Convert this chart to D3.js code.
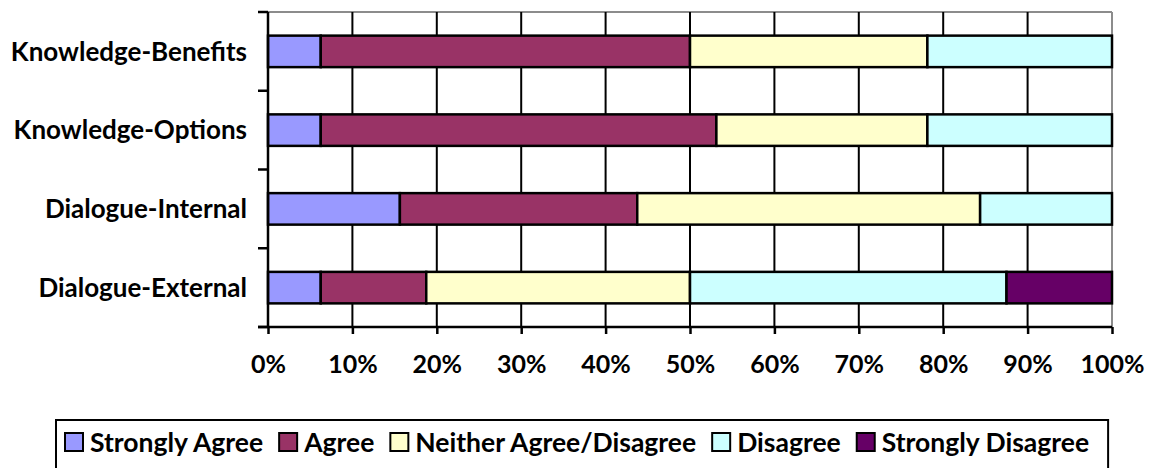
<!DOCTYPE html>
<html>
<head>
<meta charset="utf-8">
<script src="https://cdn.jsdelivr.net/npm/d3@7"></script>
<style>
  html, body { margin: 0; padding: 0; background: #ffffff; }
  svg { display: block; }
  text { font-family: Lato, "Open Sans", sans-serif; font-weight: bold; fill: #000; }
</style>
</head>
<body>
<svg id="chart" width="1149" height="468"></svg>
<script>
const categories = ["Knowledge-Benefits", "Knowledge-Options", "Dialogue-Internal", "Dialogue-External"];
const seriesNames = ["Strongly Agree", "Agree", "Neither Agree/Disagree", "Disagree", "Strongly Disagree"];
const stronglyAgree    = [6.25, 6.25, 15.625, 6.25];
const agree            = [43.75, 46.875, 28.125, 12.5];
const neither          = [28.125, 25, 40.625, 31.25];
const disagree         = [21.875, 21.875, 15.625, 37.5];
const stronglyDisagree = [0, 0, 0, 12.5];
const seriesColors = ["#9999FF", "#993366", "#FFFFCC", "#CCFFFF", "#660066"];
const xTickValues = [0, 10, 20, 30, 40, 50, 60, 70, 80, 90, 100];

const seriesValues = [stronglyAgree, agree, neither, disagree, stronglyDisagree];
const table = categories.map((c, i) => {
  const row = { category: c };
  seriesNames.forEach((s, j) => row[s] = seriesValues[j][i]);
  return row;
});

const svg = d3.select("#chart");
const plot = { left: 268, right: 1112, top: 12, bottom: 327 };

const x = d3.scaleLinear().domain([0, 100]).range([plot.left, plot.right]);
const y = d3.scaleBand().domain(categories).range([plot.top, plot.bottom])
  .paddingInner(0.6).paddingOuter(0.3);

// plot border (top/right gray)
svg.append("line").attr("x1", plot.left).attr("x2", plot.right).attr("y1", plot.top).attr("y2", plot.top)
  .attr("stroke", "#8c8c8c").attr("stroke-width", 2);
svg.append("line").attr("x1", plot.right).attr("x2", plot.right).attr("y1", plot.top).attr("y2", plot.bottom)
  .attr("stroke", "#8c8c8c").attr("stroke-width", 2);

// vertical gridlines
svg.append("g").selectAll("line")
  .data(xTickValues.filter(v => v > 0 && v < 100))
  .join("line")
  .attr("x1", d => x(d)).attr("x2", d => x(d))
  .attr("y1", plot.top).attr("y2", plot.bottom)
  .attr("stroke", "#000").attr("stroke-width", 2);

// stacked bars
const stack = d3.stack().keys(seriesNames);
const stacked = stack(table);
svg.append("g").selectAll("g")
  .data(stacked)
  .join("g")
  .attr("fill", (d, i) => seriesColors[i])
  .selectAll("rect")
  .data(d => d.filter(p => p[1] - p[0] > 0))
  .join("rect")
  .attr("x", d => x(d[0]))
  .attr("width", d => x(d[1]) - x(d[0]))
  .attr("y", d => y(d.data.category))
  .attr("height", y.bandwidth())
  .attr("stroke", "#000").attr("stroke-width", 2.5);

// x axis
const xAxis = d3.axisBottom(x).tickValues(xTickValues).tickFormat(d => d + "%").tickSize(7).tickPadding(21);
const gx = svg.append("g").attr("transform", `translate(0,${plot.bottom})`).call(xAxis);
gx.select(".domain").attr("stroke", "#000").attr("stroke-width", 2.5).attr("d", `M${plot.left - 10},0H${plot.right}`);
gx.selectAll(".tick line").attr("stroke", "#000").attr("stroke-width", 2.5);
gx.selectAll(".tick text").attr("font-size", 25).attr("font-family", "Lato").attr("font-weight", "bold").attr("fill", "#000");

// y axis line and ticks at band boundaries
svg.append("line").attr("x1", plot.left).attr("x2", plot.left).attr("y1", plot.top).attr("y2", plot.bottom)
  .attr("stroke", "#000").attr("stroke-width", 2.5);
const boundaries = d3.range(categories.length + 1).map(i => plot.top + i * y.step());
svg.append("g").selectAll("line").data(boundaries).join("line")
  .attr("x1", plot.left - 10).attr("x2", plot.left)
  .attr("y1", d => d).attr("y2", d => d)
  .attr("stroke", "#000").attr("stroke-width", 2.5);

// category labels
svg.append("g").selectAll("text").data(categories).join("text")
  .attr("x", 247)
  .attr("y", d => y(d) + y.bandwidth() / 2)
  .attr("dy", "0.36em")
  .attr("text-anchor", "end")
  .attr("font-size", 26)
  .text(d => d);

// legend
const legend = svg.append("g");
const legendTop = 420;
const legendItems = legend.selectAll("g").data(seriesNames).join("g");
legendItems.append("rect")
  .attr("width", 18).attr("height", 18)
  .attr("y", legendTop + 13)
  .attr("fill", (d, i) => seriesColors[i])
  .attr("stroke", "#000").attr("stroke-width", 2);
legendItems.append("text")
  .attr("x", 25)
  .attr("y", legendTop + 32)
  .attr("font-size", 26.5)
  .text(d => d);
let cursor = 65;
legendItems.each(function () {
  const g = d3.select(this);
  g.attr("transform", `translate(${cursor},0)`);
  const w = g.select("text").node().getComputedTextLength();
  cursor += 25 + w + 16;
});
const legendRight = cursor - 16 + 19;
legend.insert("rect", ":first-child")
  .attr("x", 56).attr("y", legendTop)
  .attr("width", legendRight - 56).attr("height", 60)
  .attr("fill", "#fff").attr("stroke", "#000").attr("stroke-width", 2);
</script>
</body>
</html>
